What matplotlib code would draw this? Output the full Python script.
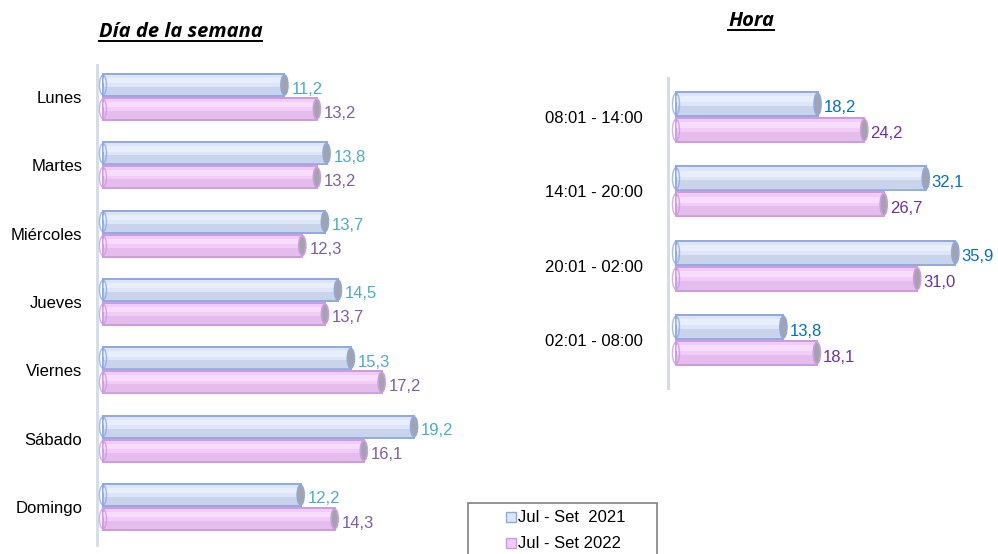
import matplotlib
matplotlib.use("Agg")
import matplotlib.pyplot as plt
from matplotlib.patches import Ellipse, Rectangle
from matplotlib.lines import Line2D
import numpy as np

# ---------------- data ----------------
dias = ["Lunes", "Martes", "Miércoles", "Jueves", "Viernes", "Sábado", "Domingo"]
dias_2021 = [11.2, 13.8, 13.7, 14.5, 15.3, 19.2, 12.2]
dias_2022 = [13.2, 13.2, 12.3, 13.7, 17.2, 16.1, 14.3]

horas = ["08:01 - 14:00", "14:01 - 20:00", "20:01 - 02:00", "02:01 - 08:00"]
horas_2021 = [18.2, 32.1, 35.9, 13.8]
horas_2022 = [24.2, 26.7, 31.0, 18.1]

series_labels = ["Jul - Set  2021", "Jul - Set 2022"]
title_left = "Día de la semana"
title_right = "Hora"

# ---------------- style ----------------
W, H = 998, 554
LBL_FONT = ["Liberation Sans", "DejaVu Sans"]
TTL_FONT = ["Open Sans", "DejaVu Sans"]
FS = 12

blue_face, blue_edge, blue_shade = "#DCE6F8", "#8EA9E2", "#B4C0DA"
pink_face, pink_edge, pink_shade = "#F2CBF9", "#CC9BE0", "#D6AEE0"
cap_col = "#A3A3AE"

fig = plt.figure(figsize=(W / 100, H / 100), dpi=100)


def px_axes(x0, y0, x1, y1):
    return fig.add_axes([x0 / W, 1 - y1 / H, (x1 - x0) / W, (y1 - y0) / H])


def cyl_bars(ax, pos, vals, face, edge, shade, h, px_per_unit):
    cap_w = 7 / px_per_unit
    for y, v in zip(pos, vals):
        ax.barh(y, v, height=h, color=face, edgecolor=edge, linewidth=1.4, zorder=2)
        ax.barh(y + h * 0.28, v, height=h * 0.38, color=shade, alpha=0.45,
                linewidth=0, zorder=3)
        ax.barh(y - h * 0.2, v, height=h * 0.25, color="white", alpha=0.35,
                linewidth=0, zorder=3)
        ax.add_patch(Ellipse((v, y), cap_w, h * 0.9, facecolor=cap_col,
                             edgecolor=edge, linewidth=1.2, zorder=4))
        ax.add_patch(Ellipse((0, y), cap_w, h * 0.9, facecolor="none",
                             edgecolor=edge, linewidth=1.0, alpha=0.8, zorder=4))


def setup_axes(ax, cats, pad):
    for s in ["top", "right", "bottom"]:
        ax.spines[s].set_visible(False)
    ax.spines["left"].set_color("#D5DCEA")
    ax.spines["left"].set_linewidth(2.2)
    ax.set_xticks([])
    ax.set_yticks(range(len(cats)))
    ax.set_yticklabels(cats, family=LBL_FONT, fontsize=FS)
    ax.tick_params(axis="y", length=0, pad=pad)
    ax.patch.set_alpha(0)


def fmt(v):
    return f"{v:.1f}".replace(".", ",")


# ---------------- left: día de la semana ----------------
axL = px_axes(97, 65, 470, 545)
ppuL = 16.2
axL.set_xlim(-6 / ppuL, (470 - 97 - 6) / ppuL)
spacingL = (507 - 97) / 6
axL.set_ylim(6 + (545 - 507) / spacingL, -(97 - 65) / spacingL)
yL = np.arange(len(dias))
hL = 22 / spacingL
offL = 12 / spacingL
cyl_bars(axL, yL - offL, dias_2021, blue_face, blue_edge, blue_shade, hL, ppuL)
cyl_bars(axL, yL + offL, dias_2022, pink_face, pink_edge, pink_shade, hL, ppuL)
setup_axes(axL, dias, 10.5)
for y, v in zip(yL, dias_2021):
    axL.text(v + 7 / ppuL, y - offL + 4 / spacingL, fmt(v),
             family=LBL_FONT, fontsize=FS, color="#4BACC6", va="center", ha="left")
for y, v in zip(yL, dias_2022):
    axL.text(v + 7 / ppuL, y + offL + 4 / spacingL, fmt(v),
             family=LBL_FONT, fontsize=FS, color="#7E5FA0", va="center", ha="left")

# ---------------- right: hora ----------------
axR = px_axes(668, 78, 995, 388)
ppuR = 7.78
axR.set_xlim(-8 / ppuR, (995 - 668 - 8) / ppuR)
spacingR = (340 - 117) / 3
axR.set_ylim(3 + (388 - 340) / spacingR, -(117 - 78) / spacingR)
yR = np.arange(len(horas))
hR = 24 / spacingR
offR = 13 / spacingR
cyl_bars(axR, yR - offR, horas_2021, blue_face, blue_edge, blue_shade, hR, ppuR)
cyl_bars(axR, yR + offR, horas_2022, pink_face, pink_edge, pink_shade, hR, ppuR)
setup_axes(axR, horas, 18)
for y, v in zip(yR, horas_2021):
    axR.text(v + 6 / ppuR, y - offR + 4 / spacingR, fmt(v),
             family=LBL_FONT, fontsize=FS, color="#0070C0", va="center", ha="left")
for y, v in zip(yR, horas_2022):
    axR.text(v + 6 / ppuR, y + offR + 4 / spacingR, fmt(v),
             family=LBL_FONT, fontsize=FS, color="#7030A0", va="center", ha="left")

# ---------------- titles (underlined) ----------------
t1 = fig.text(180.5 / W, 1 - 32 / H, title_left, family=TTL_FONT, fontsize=14.5,
              fontweight="bold", style="italic", ha="center", va="center")
t2 = fig.text(751 / W, 1 - 21 / H, title_right, family=TTL_FONT, fontsize=14.5,
              fontweight="bold", style="italic", ha="center", va="center")
fig.canvas.draw()
r = fig.canvas.get_renderer()
for t in (t1, t2):
    bb = t.get_window_extent(r)
    yline = (bb.y0 + 1) / H
    fig.add_artist(Line2D([bb.x0 / W, bb.x1 / W], [yline, yline],
                          transform=fig.transFigure, color="black", linewidth=1.4))

# ---------------- legend box ----------------
fig.add_artist(Rectangle((468 / W, 1 - 565 / H), (657 - 468) / W, (565 - 503) / H,
                         transform=fig.transFigure, facecolor="white",
                         edgecolor="#808080", linewidth=1.2))
for i, (lab, fc, ec) in enumerate(zip(series_labels, [blue_face, pink_face],
                                      [blue_edge, pink_edge])):
    yc = 517 + i * 26
    fig.add_artist(Rectangle((506 / W, 1 - (yc + 5) / H), 10 / W, 10 / H,
                             transform=fig.transFigure, facecolor=fc,
                             edgecolor=ec, linewidth=1.0))
    fig.text(518 / W, 1 - yc / H, lab, family=LBL_FONT, fontsize=FS,
             ha="left", va="center")

fig.savefig("out.png", dpi=100)
